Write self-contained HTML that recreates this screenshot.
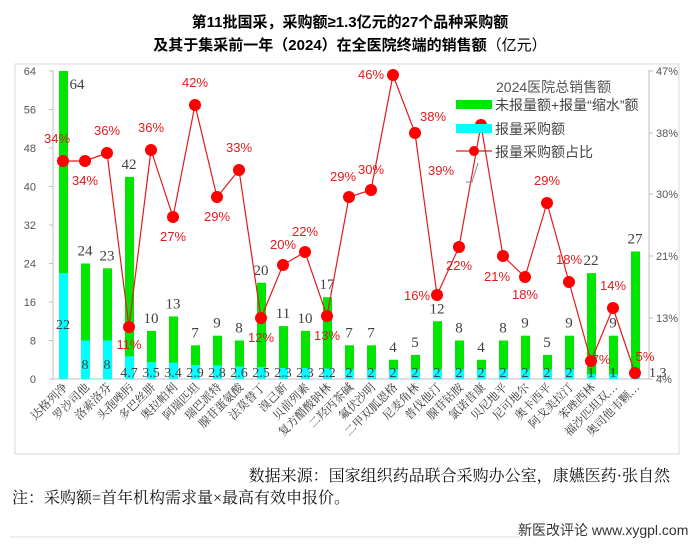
<!DOCTYPE html>
<html><head><meta charset="utf-8"><style>
body{margin:0;background:#fff;width:700px;height:544px;overflow:hidden}
svg text{font-family:"Liberation Serif","Noto Serif CJK SC",serif}
</style></head><body>
<svg id="s" width="700" height="544" xmlns="http://www.w3.org/2000/svg">
<rect x="15" y="64" width="664" height="390" fill="#fff" stroke="#d9d9d9" stroke-width="1"/>
<text x="350" y="27" text-anchor="middle" font-size="15" font-weight="bold" style="font-family:'Liberation Sans','Noto Sans CJK SC',sans-serif">第11批国采，采购额≥1.3亿元的27个品种采购额</text>
<text x="350" y="50" text-anchor="middle" font-size="15" font-weight="bold" style="font-family:'Liberation Sans','Noto Sans CJK SC',sans-serif">及其于集采前一年（2024）在全医院终端的销售额<tspan font-weight="normal">（亿元）</tspan></text>
<g id="g"></g>
<text x="670" y="481" text-anchor="end" font-size="16" fill="#111" style="font-family:'Liberation Serif','Noto Serif CJK SC',serif">数据来源：国家组织药品联合采购办公室，康嬿医药·张自然</text>
<text x="12" y="503" font-size="16" fill="#111" style="font-family:'Liberation Serif','Noto Serif CJK SC',serif">注：采购额=首年机构需求量×最高有效申报价。</text>
<line x1="10" y1="537" x2="520" y2="537" stroke="#ddd"/>
<text x="518" y="535" font-size="14" fill="#333" style="font-family:'Liberation Sans','Noto Sans CJK SC',sans-serif">新医改评论 www.xygpl.com</text>
</svg>
<script>
const N=["达格列净","罗沙司他","洛索洛芬","头孢唑肟","多巴丝肼","奥拉帕利","阿瑞匹坦","瑞巴派特","腺苷蛋氨酸","法莫替丁","溴己新","贝前列素","复方醋酸钠林","二羟丙茶碱","氟伏沙明","二甲双胍恩格","尼麦角林","普伐他汀","腺苷钴胺","氯诺昔康","贝尼地平","尼可地尔","奥卡西平","阿戈美拉汀","苯唑西林","福沙匹坦双…","奥司他韦颗…"];
const T=[64,24,23,42,10,13,7,9,8,20,11,10,17,7,7,4,5,12,8,4,8,9,5,9,22,9,26.5];
const TL=["64","24","23","42","10","13","7","9","8","20","11","10","17","7","7","4","5","12","8","4","8","9","5","9","22","9","27"];
const B=[22,8,8,4.7,3.5,3.4,2.9,2.8,2.6,2.5,2.3,2.3,2.2,2,2,2,2,2,2,2,2,2,2,2,1,1,1.3];
const BL=["22","8","8","4.7","3.5","3.4","2.9","2.8","2.6","2.5","2.3","2.3","2.2","2","2","2","2","2","2","2","2","2","2","2","1","1",""];
const P=[34,34,36,11,36,27,42,29,33,12,20,22,13,29,30,46,38,16,22,39,21,18,29,18,7,14,5];
const PY=[161,161,153,327,150,217,105,197,170,318,265,252,316,197,190,75,133,295,247,125,256,277,203,282,361,308,373];
const O=[[-6,-18],[0,24],[0,-18],[0,22],[0,-18],[0,24],[0,-18],[0,24],[0,-18],[0,24],[0,-16],[0,-16],[0,24],[-6,-16],[0,-16],[-22,4],[18,-12],[-20,5],[0,23],[-40,50],[-6,25],[0,22],[0,-18],[0,-18],[10,3],[0,-18],[10,-12]];
const Y0=379,U=308/64;
let h='';
const cx=i=>63+i*22;
h+=`<line x1="53" y1="70" x2="53" y2="${Y0}" stroke="#bfbfbf"/><line x1="53" y1="${Y0}" x2="649" y2="${Y0}" stroke="#bfbfbf"/><line x1="649" y1="70" x2="649" y2="${Y0}" stroke="#bfbfbf"/>`;
for(let v=0;v<=64;v+=8){const y=Y0-v*U;h+=`<line x1="49" y1="${y}" x2="53" y2="${y}" stroke="#bfbfbf"/><text x="36" y="${y+4}" text-anchor="end" font-size="11" fill="#555" style="font-family:'Liberation Sans',sans-serif">${v}</text>`;}
[[47,71],[38,133],[30,194],[21,256],[13,318],[4,379]].forEach(([p,y])=>{h+=`<line x1="649" y1="${y}" x2="653" y2="${y}" stroke="#bfbfbf"/><text x="656" y="${y+4}" font-size="11" fill="#555" style="font-family:'Liberation Sans',sans-serif">${p}%</text>`;});
for(let i=0;i<27;i++){const x=cx(i)-4;const tt=Y0-T[i]*U,bt=Y0-B[i]*U;
h+=`<rect x="${x}" y="${tt}" width="9" height="${Y0-tt}" fill="#00e600"/><rect x="${x}" y="${bt}" width="9" height="${Y0-bt}" fill="#00ffff"/>`;
h+=`<text x="${cx(i)+(i==0?14:0)}" y="${i==0?tt+18:tt-8}" text-anchor="middle" font-size="15" fill="#404040">${TL[i]}</text>`;
if(BL[i])h+=`<text x="${cx(i)}" y="${i<3?Y0-(i==0?50:10):Y0-2}" text-anchor="middle" font-size="14" fill="#404040">${BL[i]}</text>`;
h+=`<text transform="translate(${cx(i)+5},388) rotate(-45)" text-anchor="end" font-size="11.5" fill="#333">${N[i]}</text>`;}
h+=`<text x="649" y="377" font-size="14" fill="#404040">1.3</text>`;
let pts=PY.map((y,i)=>cx(i)+','+y).join(' ');
h+=`<polyline points="${pts}" fill="none" stroke="#e41a1c" stroke-width="1.2"/>`;
PY.forEach((y,i)=>{h+=`<circle cx="${cx(i)}" cy="${y}" r="6" fill="#f00"/>`;});
h+=`<polyline points="466,182 472,182 478,163" fill="none" stroke="#888"/>`;
PY.forEach((y,i)=>{h+=`<text x="${cx(i)+O[i][0]}" y="${y+O[i][1]}" text-anchor="middle" font-size="13" fill="#e41a1c" style="font-family:'Liberation Sans',sans-serif">${P[i]}%</text>`;});
h+=`<text x="496" y="92" font-size="14" fill="#555" style="font-family:'Liberation Sans','Noto Sans CJK SC',sans-serif">2024医院总销售额</text>`;
h+=`<rect x="456" y="100" width="36" height="9" fill="#00e600"/><text x="495" y="110" font-size="14" fill="#444" style="font-family:'Liberation Sans','Noto Sans CJK SC',sans-serif">未报量额+报量“缩水”额</text>`;
h+=`<rect x="456" y="124" width="36" height="9" fill="#00ffff"/><text x="495" y="134" font-size="14" fill="#444" style="font-family:'Liberation Sans','Noto Sans CJK SC',sans-serif">报量采购额</text>`;
h+=`<line x1="456" y1="151" x2="492" y2="151" stroke="#e41a1c" stroke-width="1.2"/><circle cx="474" cy="151" r="5" fill="#f00"/><text x="495" y="157" font-size="14" fill="#444" style="font-family:'Liberation Sans','Noto Sans CJK SC',sans-serif">报量采购额占比</text>`;
document.getElementById('g').innerHTML=h;
</script>
</body></html>
